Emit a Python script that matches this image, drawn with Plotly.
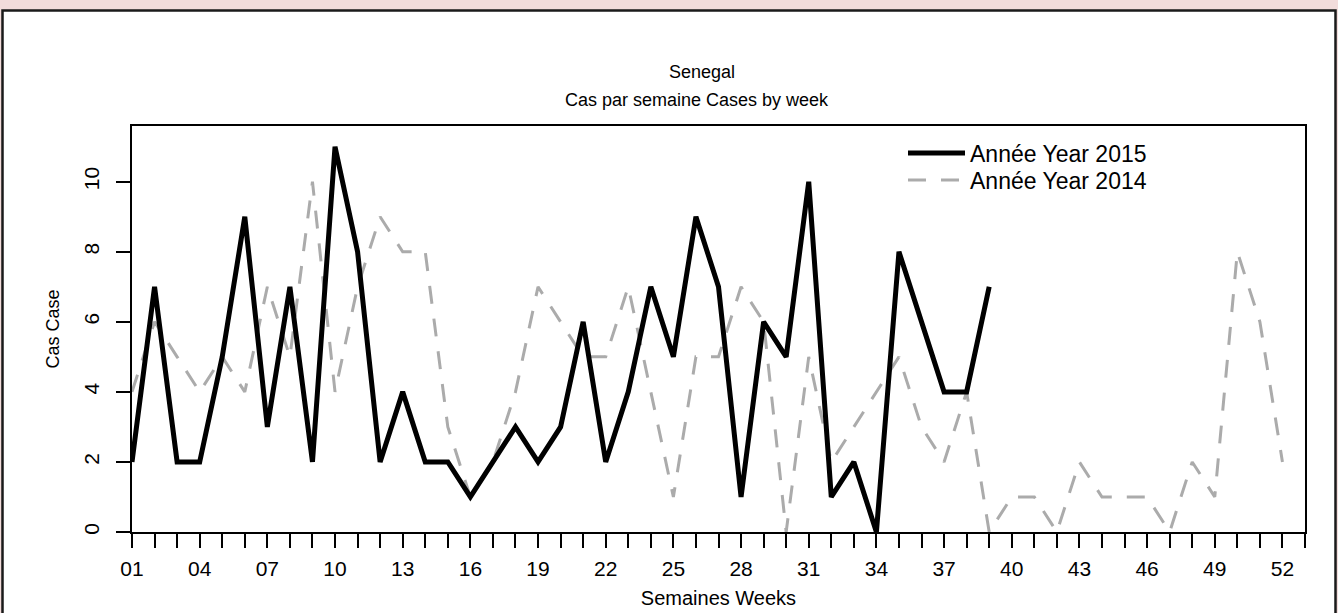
import plotly.graph_objects as go

# ---- data ----
weeks_2015 = list(range(1, 40))
cases_2015 = [2, 7, 2, 2, 5, 9, 3, 7, 2, 11, 8, 2, 4, 2, 2, 1, 2, 3, 2, 3,
              6, 2, 4, 7, 5, 9, 7, 1, 6, 5, 10, 1, 2, 0, 8, 6, 4, 4, 7]

weeks_2014 = list(range(1, 53))
cases_2014 = [4, 6, 5, 4, 5, 4, 7, 5, 10, 4, 7, 9, 8, 8, 3, 1, 2, 4, 7, 6,
              5, 5, 7, 4, 1, 5, 5, 7, 6, 0, 5, 2, 3, 4, 5, 3, 2, 4, 0, 1,
              1, 0, 2, 1, 1, 1, 0, 2, 1, 8, 6, 2]

x_tick_vals = [1, 4, 7, 10, 13, 16, 19, 22, 25, 28, 31, 34, 37, 40, 43, 46, 49, 52]
x_tick_text = ["01", "04", "07", "10", "13", "16", "19", "22", "25", "28",
               "31", "34", "37", "40", "43", "46", "49", "52"]
y_tick_vals = [0, 2, 4, 6, 8, 10]

FONT = "Liberation Sans, Arial, sans-serif"

# plot area geometry (pixels) for converting frame position to paper coords
L, R, T, B = 132, 33, 126, 81
W, H = 1338, 613
PW, PH = W - L - R, H - T - B


def px_x(px):
    return (px - L) / PW


def px_y(py):
    return (H - B - py) / PH


fig = go.Figure()

fig.add_trace(go.Scatter(
    x=weeks_2014, y=cases_2014, mode="lines", name="Année Year 2014",
    line=dict(color="#ABABAB", width=3, dash="18px,15px"),
    legend="legend2",
))
fig.add_trace(go.Scatter(
    x=weeks_2015, y=cases_2015, mode="lines", name="Année Year 2015",
    line=dict(color="black", width=5),
    legend="legend",
))

# white panel with dark border on pink page
fig.add_shape(type="rect", xref="paper", yref="paper",
              x0=px_x(2.5), x1=px_x(1335.5), y0=px_y(640), y1=px_y(10.5),
              line=dict(color="#1a1a1a", width=2.5), fillcolor="white",
              layer="below")

legend_style = dict(xanchor="left", yanchor="middle", bgcolor="rgba(0,0,0,0)",
                    font=dict(size=23, family=FONT), itemwidth=57)

fig.update_layout(
    width=W, height=H,
    margin=dict(l=L, r=R, t=T, b=B),
    paper_bgcolor="#F2DCDB",
    plot_bgcolor="white",
    font=dict(family=FONT, size=18, color="black"),
    title=dict(text="Senegal", x=702 / W, xanchor="center",
               y=1 - 72 / H, yanchor="middle", yref="container",
               font=dict(size=18, family=FONT, color="black")),
    showlegend=True,
    legend=dict(x=px_x(903), y=px_y(153), **legend_style),
    legend2=dict(x=px_x(903), y=px_y(180), **legend_style),
    annotations=[dict(text="Cas par semaine Cases by week", xref="paper", yref="paper",
                      x=px_x(697), y=px_y(100), xanchor="center", yanchor="middle",
                      showarrow=False, font=dict(size=18, family=FONT))],
)

fig.update_xaxes(
    range=[1, 53], tickvals=x_tick_vals, ticktext=x_tick_text,
    ticks="outside", ticklen=14, tickwidth=1.5, tickcolor="black",
    minor=dict(ticks="outside", ticklen=14, tickwidth=1.5, tickcolor="black",
               tick0=1, dtick=1, showgrid=False),
    showline=True, linecolor="black", linewidth=1.5, mirror=True,
    showgrid=False, zeroline=False, ticklabelstandoff=3, automargin=False,
    tickfont=dict(size=21),
    title=dict(text="Semaines Weeks", font=dict(size=20), standoff=12),
)
fig.update_yaxes(
    range=[0, 11.59], tickvals=y_tick_vals, tickangle=-90,
    ticks="outside", ticklen=14, tickwidth=1.5, tickcolor="black",
    showline=True, linecolor="black", linewidth=1.5, mirror=True,
    showgrid=False, zeroline=False, ticklabelstandoff=9, automargin=False,
    tickfont=dict(size=21),
    title=dict(text="Cas Case", font=dict(size=18), standoff=16),
)

fig.write_html("out.html", config={"displayModeBar": False},
               post_script="document.body.style.margin='0px';")
